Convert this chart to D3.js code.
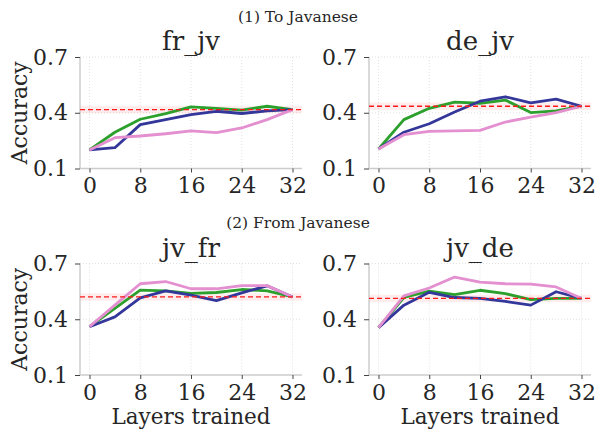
<!DOCTYPE html>
<html>
<head>
<meta charset="utf-8">
<script src="https://cdn.jsdelivr.net/npm/d3@7"></script>
<style>
  html, body { margin: 0; padding: 0; background: #fff; }
  svg { display: block; }
  text { font-family: "DejaVu Serif", serif; fill: #262626; }
</style>
</head>
<body>
<svg id="chart" width="596" height="434"></svg>
<script>
// ---- data ----
const layers = [0, 4, 8, 12, 16, 20, 24, 28, 32];
const xTicks = [0, 8, 16, 24, 32];
const yTicks = [0.1, 0.4, 0.7];
const yTickLabels = ["0.1", "0.4", "0.7"];
const sectionTitles = ["(1) To Javanese", "(2) From Javanese"];
const panelTitles = ["fr_jv", "de_jv", "jv_fr", "jv_de"];
const seriesColors = ["#2ca02c", "#34379a", "#e38fd0"];

const frJvGreen = [0.200, 0.295, 0.365, 0.395, 0.432, 0.423, 0.414, 0.435, 0.417];
const frJvBlue  = [0.200, 0.212, 0.336, 0.363, 0.390, 0.408, 0.396, 0.410, 0.417];
const frJvPink  = [0.200, 0.266, 0.275, 0.287, 0.302, 0.293, 0.318, 0.363, 0.417];
const frJvBase  = 0.417;

const deJvGreen = [0.205, 0.363, 0.424, 0.457, 0.451, 0.468, 0.401, 0.410, 0.435];
const deJvBlue  = [0.205, 0.295, 0.341, 0.404, 0.462, 0.486, 0.453, 0.473, 0.435];
const deJvPink  = [0.205, 0.282, 0.300, 0.302, 0.305, 0.350, 0.377, 0.401, 0.435];
const deJvBase  = 0.435;

const jvFrGreen = [0.360, 0.458, 0.557, 0.553, 0.539, 0.544, 0.560, 0.553, 0.520];
const jvFrBlue  = [0.360, 0.413, 0.515, 0.553, 0.530, 0.500, 0.542, 0.580, 0.520];
const jvFrPink  = [0.360, 0.476, 0.591, 0.603, 0.564, 0.564, 0.581, 0.581, 0.520];
const jvFrBase  = 0.520;

const jvDeGreen = [0.355, 0.517, 0.551, 0.533, 0.556, 0.538, 0.506, 0.512, 0.512];
const jvDeBlue  = [0.355, 0.476, 0.545, 0.517, 0.512, 0.496, 0.476, 0.548, 0.512];
const jvDePink  = [0.355, 0.526, 0.568, 0.627, 0.600, 0.591, 0.589, 0.574, 0.512];
const jvDeBase  = 0.512;

const baseBand = 0.02;

const panels = [
  { title: panelTitles[0], series: [frJvGreen, frJvBlue, frJvPink], base: frJvBase, left: 80,  top: 57,    ylabel: true,  xlabel: false },
  { title: panelTitles[1], series: [deJvGreen, deJvBlue, deJvPink], base: deJvBase, left: 369, top: 57,    ylabel: false, xlabel: false },
  { title: panelTitles[2], series: [jvFrGreen, jvFrBlue, jvFrPink], base: jvFrBase, left: 80,  top: 263.5, ylabel: true,  xlabel: true },
  { title: panelTitles[3], series: [jvDeGreen, jvDeBlue, jvDePink], base: jvDeBase, left: 369, top: 263.5, ylabel: false, xlabel: true }
];

// ---- layout ----
const W = 222, H = 111.5;
const svg = d3.select("#chart");

svg.append("text").attr("x", 298).attr("y", 22).attr("text-anchor", "middle")
  .style("font-size", "15.5px").text(sectionTitles[0]);
svg.append("text").attr("x", 298).attr("y", 227.5).attr("text-anchor", "middle")
  .style("font-size", "15.5px").text(sectionTitles[1]);

panels.forEach(p => {
  const g = svg.append("g").attr("transform", `translate(${p.left},${p.top})`);
  const x = d3.scaleLinear().domain([-1.5, 33.5]).range([0, W]);
  const y = d3.scaleLinear().domain([0.1, 0.7]).range([H, 0]);

  // grid
  g.selectAll(".vg").data(xTicks).enter().append("line")
    .attr("x1", d => x(d)).attr("x2", d => x(d)).attr("y1", 0).attr("y2", H)
    .attr("stroke", "#d9d9d9").attr("stroke-width", 0.8).attr("stroke-dasharray", "1,2");
  g.selectAll(".hg").data(yTicks.filter(v => v > 0.1)).enter().append("line")
    .attr("x1", 0).attr("x2", W).attr("y1", d => y(d)).attr("y2", d => y(d))
    .attr("stroke", "#d9d9d9").attr("stroke-width", 0.8).attr("stroke-dasharray", "1,2");

  // baseline band
  g.append("rect").attr("x", 0).attr("width", W)
    .attr("y", y(p.base + baseBand)).attr("height", y(p.base - baseBand) - y(p.base + baseBand))
    .attr("fill", "#ff0000").attr("fill-opacity", 0.07);

  // axes
  const yAxis = d3.axisLeft(y).tickValues(yTicks).tickFormat((d, i) => yTickLabels[i])
    .tickSize(5).tickPadding(7);
  const xAxis = d3.axisBottom(x).tickValues(xTicks).tickSize(4).tickPadding(5);

  const ya = g.append("g").call(yAxis);
  ya.select(".domain").attr("stroke", "#cccccc").attr("stroke-width", 1.5).attr("d", `M0,0V${H}`);
  ya.selectAll(".tick line").attr("stroke", "#444");
  ya.selectAll(".tick text").style("font-size", "22px").style("font-family", "DejaVu Serif").attr("fill", "#262626");

  const xa = g.append("g").attr("transform", `translate(0,${H})`).call(xAxis);
  xa.select(".domain").attr("stroke", "#cccccc").attr("stroke-width", 1.5).attr("d", `M0,0H${W}`);
  xa.selectAll(".tick line").attr("stroke", "#444");
  xa.selectAll(".tick text").style("font-size", "22px").style("font-family", "DejaVu Serif").attr("fill", "#262626");

  // lines
  const line = d3.line().x((d, i) => x(layers[i])).y(d => y(d));
  p.series.forEach((s, i) => {
    g.append("path").datum(s).attr("d", line).attr("fill", "none")
      .attr("stroke", seriesColors[i]).attr("stroke-width", 2.8)
      .attr("stroke-linejoin", "round");
  });

  g.append("line").attr("x1", 0).attr("x2", W).attr("y1", y(p.base)).attr("y2", y(p.base))
    .attr("stroke", "#ff1a1a").attr("stroke-width", 1.3).attr("stroke-dasharray", "5,3");

  // title
  g.append("text").attr("x", W / 2).attr("y", -7).attr("text-anchor", "middle")
    .style("font-size", "26px").text(p.title);

  if (p.ylabel) {
    g.append("text").attr("transform", `translate(${-53},${H / 2}) rotate(-90)`)
      .attr("text-anchor", "middle").style("font-size", "22px").text("Accuracy");
  }
  if (p.xlabel) {
    g.append("text").attr("x", W / 2).attr("y", H + 48.5).attr("text-anchor", "middle")
      .style("font-size", "21.5px").text("Layers trained");
  }
});
</script>
</body>
</html>
